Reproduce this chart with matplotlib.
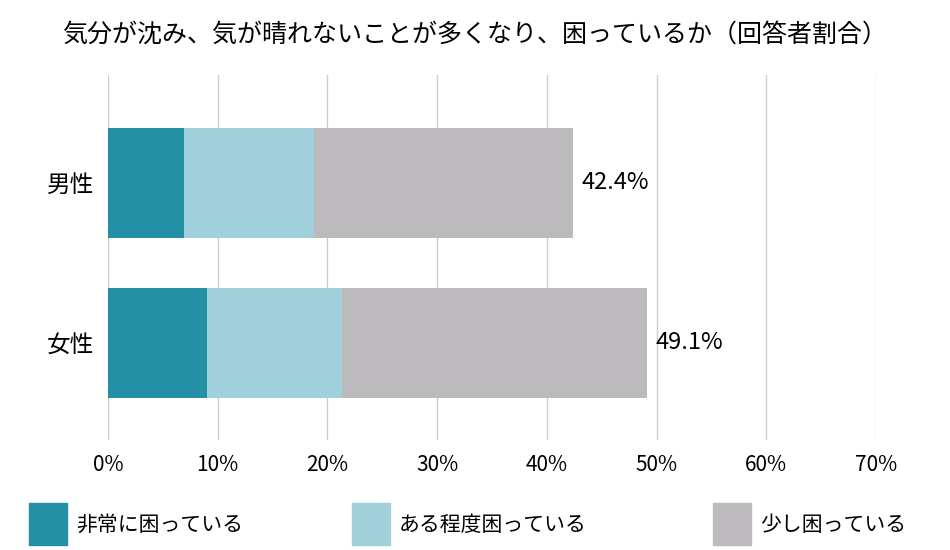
import matplotlib.pyplot as plt
from matplotlib.patches import Rectangle

plt.rcParams['font.family'] = 'Noto Sans CJK JP'

categories = ['男性', '女性']
very = [6.9, 9.0]
somewhat = [11.9, 12.3]
little = [23.6, 27.8]
totals = [42.4, 49.1]
series_names = ['非常に困っている', 'ある程度困っている', '少し困っている']
colors = ['#2490a6', '#9fd0dc', '#bcbabd']

fig = plt.figure(figsize=(9.5, 5.5), dpi=100)
ax = fig.add_axes([0.1137, 0.2, 0.922 - 0.1137, 0.664])

y = [0, 1]
left = [0, 0]
for vals, c in zip([very, somewhat, little], colors):
    ax.barh(y, vals, left=left, height=0.69, color=c, zorder=3)
    left = [l + v for l, v in zip(left, vals)]
for yi, t in zip(y, totals):
    ax.text(t + 0.8, yi, f'{t}%', va='center', ha='left', fontsize=17)

ax.set_xlim(0, 70)
ax.set_ylim(1.606, -0.675)
ax.set_xticks(range(0, 71, 10))
ax.set_xticklabels([f'{v}%' for v in range(0, 71, 10)], fontsize=15)
ax.set_yticks(y)
ax.set_yticklabels(categories, fontsize=17)
ax.grid(axis='x', color='#cccccc', linewidth=1, zorder=0)
ax.tick_params(length=0, pad=10)
for s in ax.spines.values():
    s.set_visible(False)

fig.text(0.5, 0.925, '気分が沈み、気が晴れないことが多くなり、困っているか（回答者割合）',
         ha='center', fontsize=18)

lx = [0.03, 0.37, 0.75]
for x0, name, c in zip(lx, series_names, colors):
    fig.patches.append(Rectangle((x0, 0.01), 0.04, 0.075, transform=fig.transFigure,
                                 color=c, figure=fig))
    fig.text(x0 + 0.05, 0.045, name, va='center', fontsize=15)

fig.savefig('out.png')
